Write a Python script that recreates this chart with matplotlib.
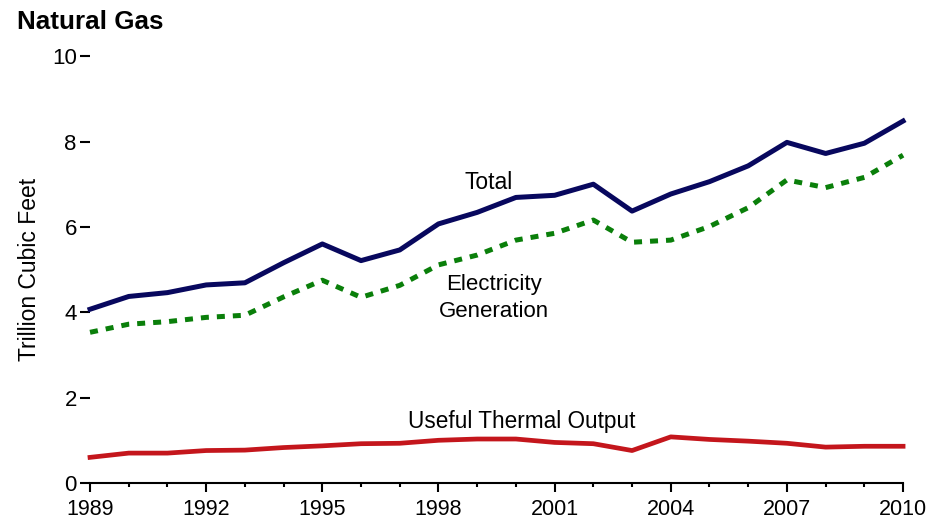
import matplotlib.pyplot as plt
from matplotlib.ticker import MultipleLocator

plt.rcParams['font.family'] = ['Liberation Sans', 'DejaVu Sans']

years = list(range(1989, 2011))
total = [4.07, 4.37, 4.46, 4.64, 4.69, 5.16, 5.60, 5.21, 5.46, 6.07, 6.34, 6.69,
         6.74, 7.00, 6.37, 6.77, 7.06, 7.43, 7.98, 7.72, 7.96, 8.48]
electricity = [3.53, 3.72, 3.78, 3.88, 3.93, 4.36, 4.75, 4.35, 4.63, 5.11, 5.34, 5.69,
               5.85, 6.16, 5.64, 5.69, 6.01, 6.45, 7.10, 6.92, 7.16, 7.68]
thermal = [0.60, 0.70, 0.70, 0.76, 0.77, 0.83, 0.87, 0.92, 0.93, 1.00, 1.03, 1.03,
           0.95, 0.92, 0.76, 1.08, 1.02, 0.98, 0.93, 0.84, 0.86, 0.86]

fig = plt.figure(figsize=(9.31, 5.2), dpi=100)
ax = fig.add_axes([0.0967, 0.0712, 0.8733, 0.8208])

ax.plot(years, total, color='#08085e', lw=3.6, clip_on=False)
ax.plot(years, electricity, color='#0a7f0a', lw=3.6, ls=(0, (1.6, 1.6)), clip_on=False)
ax.plot(years, thermal, color='#c4161c', lw=3.4, clip_on=False)

ax.set_xlim(1989, 2010)
ax.set_ylim(0, 10)
ax.xaxis.set_major_locator(MultipleLocator(3))
ax.xaxis.set_minor_locator(MultipleLocator(1))
ax.yaxis.set_major_locator(MultipleLocator(2))

for s in ['top', 'right', 'left']:
    ax.spines[s].set_visible(False)
ax.spines['bottom'].set_linewidth(1.5)

ax.tick_params(axis='x', which='major', length=6.5, width=1.5, labelsize=15.5, pad=5)
ax.tick_params(axis='x', which='minor', length=3.2, width=1.5)
ax.tick_params(axis='y', length=7.5, width=1.5, labelsize=16, pad=2)

ax.set_ylabel('Trillion Cubic Feet', fontsize=16.5, labelpad=8)

ax.text(1999.3, 7.05, 'Total', fontsize=16.5, ha='center', va='center')
ax.text(1999.44, 4.33, 'Electricity\nGeneration', fontsize=16, ha='center', va='center',
        linespacing=1.4)
ax.text(2000.15, 1.45, 'Useful Thermal Output', fontsize=16.3, ha='center', va='center')

fig.text(0.018, 0.957, 'Natural Gas', fontsize=18.7, fontweight='bold', ha='left', va='center')

fig.savefig('out.png', dpi=100)
